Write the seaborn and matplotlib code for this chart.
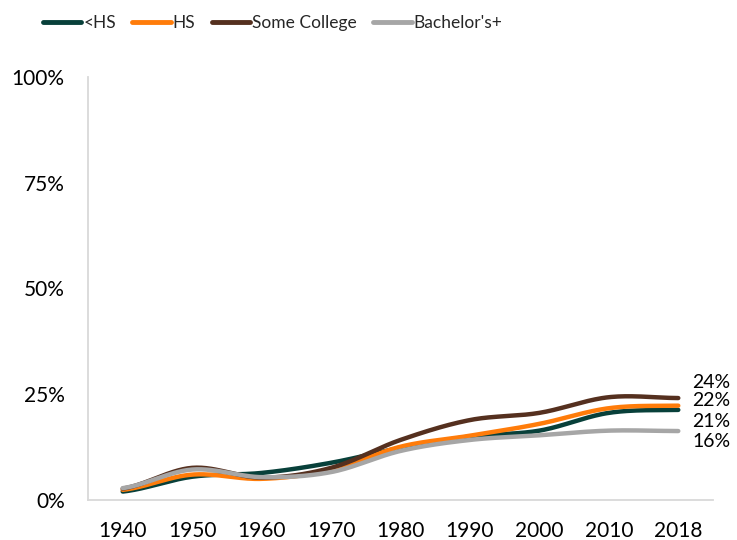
import numpy as np
import pandas as pd
import matplotlib
matplotlib.use("Agg")
import matplotlib.pyplot as plt
import seaborn as sns
from matplotlib.lines import Line2D

years = ["1940", "1950", "1960", "1970", "1980", "1990", "2000", "2010", "2018"]
lt_hs = [2.0, 5.5, 6.4, 8.8, 12.3, 15.0, 16.4, 20.6, 21.3]
hs = [2.4, 6.0, 5.0, 7.1, 12.6, 15.2, 18.0, 21.7, 22.3]
some_college = [2.7, 7.6, 5.3, 7.6, 14.2, 18.9, 20.6, 24.3, 24.1]
bachelors = [2.8, 7.2, 5.4, 6.6, 11.6, 14.2, 15.3, 16.4, 16.3]
series_names = ["<HS", "HS", "Some College", "Bachelor's+"]
end_labels = ["21%", "22%", "24%", "16%"]
colors = ["#08403A", "#FF7C0A", "#55301F", "#A6A6A6"]

sns.set_style("white")
plt.rcParams["font.family"] = ["Lato", "DejaVu Sans"]


def smooth(xs, ys, n=30):
    # Excel-like Bezier smoothing used only for rendering the curve
    xs = np.asarray(xs, float)
    ys = np.asarray(ys, float)
    px = np.concatenate([[2 * xs[0] - xs[1]], xs, [2 * xs[-1] - xs[-2]]])
    py = np.concatenate([[ys[0]], ys, [ys[-1]]])
    outx, outy = [], []
    for i in range(1, len(px) - 2):
        t = np.linspace(0, 1, n, endpoint=False)
        p0x, p1x, p2x, p3x = px[i - 1:i + 3]
        p0y, p1y, p2y, p3y = py[i - 1:i + 3]
        c1x = p1x + (p2x - p0x) / 6
        c1y = p1y + (p2y - p0y) / 6
        c2x = p2x - (p3x - p1x) / 6
        c2y = p2y - (p3y - p1y) / 6
        bx = (1 - t) ** 3 * p1x + 3 * (1 - t) ** 2 * t * c1x + 3 * (1 - t) * t ** 2 * c2x + t ** 3 * p2x
        by = (1 - t) ** 3 * p1y + 3 * (1 - t) ** 2 * t * c1y + 3 * (1 - t) * t ** 2 * c2y + t ** 3 * p2y
        outx.extend(bx)
        outy.extend(by)
    outx.append(xs[-1])
    outy.append(ys[-1])
    return np.array(outx), np.array(outy)


fig = plt.figure(figsize=(7.37, 5.40), dpi=100)
ax = fig.add_axes([88 / 737, 1 - 500 / 540, (713 - 88) / 737, (500 - 77) / 540])

xpos = np.arange(len(years))
frames = []
for name, vals in zip(series_names, [lt_hs, hs, some_college, bachelors]):
    sx, sy = smooth(xpos, vals)
    frames.append(pd.DataFrame({"x": sx, "y": sy, "series": name}))
df = pd.concat(frames, ignore_index=True)

sns.lineplot(data=df, x="x", y="y", hue="series", hue_order=series_names,
             palette=colors, linewidth=3.2, sort=False, estimator=None,
             ax=ax, legend=False)

# end labels (offset in points to avoid overlap)
offsets = {"<HS": -8, "HS": 3.8, "Some College": 11.5, "Bachelor's+": -7.5}
for name, vals, lab in zip(series_names, [lt_hs, hs, some_college, bachelors], end_labels):
    ax.annotate(lab, xy=(xpos[-1], vals[-1]), xytext=(10, offsets[name]),
                textcoords="offset points", ha="left", va="center",
                fontsize=14, color="black", annotation_clip=False)

ax.set_xlim(-0.5, len(years) - 0.5)
ax.set_ylim(0, 100)
ax.set_xticks(xpos)
ax.set_xticklabels(years)
ax.set_xticks([len(years) - 0.5], minor=True)
ax.set_yticks([0, 25, 50, 75, 100])
ax.set_yticklabels(["0%", "25%", "50%", "75%", "100%"])
ax.set_xlabel("")
ax.set_ylabel("")

for s in ["top", "right"]:
    ax.spines[s].set_visible(False)
for s in ["left", "bottom"]:
    ax.spines[s].set_color("#D9D9D9")
    ax.spines[s].set_linewidth(1.3)
ax.tick_params(axis="y", which="major", direction="inout", length=11.5, width=1.3,
               color="#D9D9D9", labelsize=15, labelcolor="black", pad=11)
ax.tick_params(axis="x", which="both", direction="inout", length=8, width=1.3,
               color="#D9D9D9", labelsize=15, labelcolor="black", pad=11)

handles = [Line2D([0], [0], color=c, lw=3.5) for c in colors]
fig.legend(handles, series_names, loc="center left",
           bbox_to_anchor=(43 / 737, 1 - 23 / 540),
           ncol=4, frameon=False, fontsize=12.5, handlelength=2.2, handletextpad=0.12,
           columnspacing=0.95, borderpad=0, borderaxespad=0)

fig.savefig("out.png", dpi=100)
